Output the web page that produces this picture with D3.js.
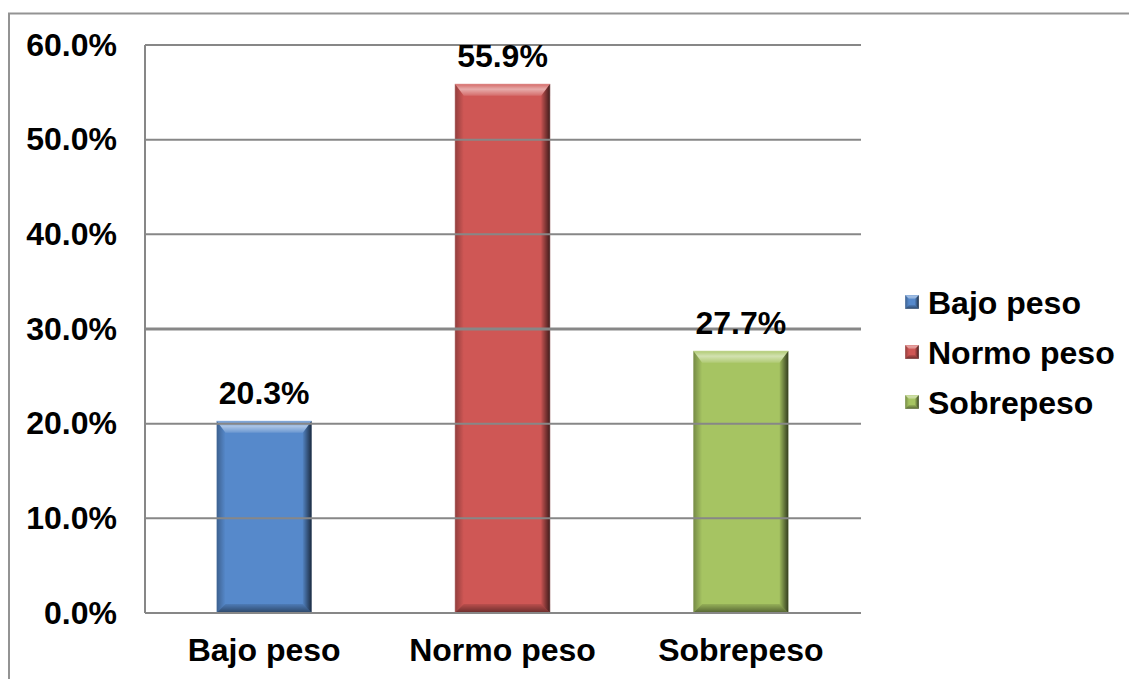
<!DOCTYPE html>
<html>
<head>
<meta charset="utf-8">
<script src="https://cdn.jsdelivr.net/npm/d3@7/dist/d3.min.js"></script>
<style>
  html, body { margin: 0; padding: 0; background: #ffffff; }
  svg { display: block; font-family: "Liberation Sans", Arial, sans-serif; font-weight: bold; }
</style>
</head>
<body>
<svg id="chart" width="1129" height="679"></svg>
<script>
const categories = ["Bajo peso", "Normo peso", "Sobrepeso"];
const values = [0.203, 0.559, 0.277];
const colors = ["#5689CB", "#CF5755", "#A6C462"];
const tickValues = [0, 0.1, 0.2, 0.3, 0.4, 0.5, 0.6];
const legendLabels = ["Bajo peso", "Normo peso", "Sobrepeso"];

const svg = d3.select("#chart");
const W = 1129, H = 679;
const plot = { left: 145, right: 860, top: 45, bottom: 613 };
const FS = 32;

// outer chart border
svg.append("rect")
  .attr("x", 9).attr("y", 13.5)
  .attr("width", W + 20).attr("height", H + 20)
  .attr("fill", "#ffffff")
  .attr("stroke", "#939393").attr("stroke-width", 2);

const x = d3.scaleBand().domain(categories)
  .range([plot.left, plot.right]).paddingInner(0.6).paddingOuter(0.3);
const y = d3.scaleLinear().domain([0, 0.6]).range([plot.bottom, plot.top]);
const fmt = d3.format(".1%");

const defs = svg.append("defs");
const gR = defs.append("linearGradient").attr("id", "gRight").attr("x1", 0).attr("x2", 1).attr("y1", 0).attr("y2", 0);
gR.append("stop").attr("offset", 0).attr("stop-color", "#000").attr("stop-opacity", 0.05);
gR.append("stop").attr("offset", 1).attr("stop-color", "#000").attr("stop-opacity", 0.7);
const gL = defs.append("linearGradient").attr("id", "gLeft").attr("x1", 0).attr("x2", 1).attr("y1", 0).attr("y2", 0);
gL.append("stop").attr("offset", 0).attr("stop-color", "#000").attr("stop-opacity", 0.3);
gL.append("stop").attr("offset", 1).attr("stop-color", "#000").attr("stop-opacity", 0.0);
const gT = defs.append("linearGradient").attr("id", "gTop").attr("x1", 0).attr("x2", 0).attr("y1", 0).attr("y2", 1);
gT.append("stop").attr("offset", 0).attr("stop-color", "#fff").attr("stop-opacity", 0.1);
gT.append("stop").attr("offset", 0.45).attr("stop-color", "#fff").attr("stop-opacity", 0.5);
gT.append("stop").attr("offset", 1).attr("stop-color", "#fff").attr("stop-opacity", 0.12);
const gB = defs.append("linearGradient").attr("id", "gBot").attr("x1", 0).attr("x2", 0).attr("y1", 0).attr("y2", 1);
gB.append("stop").attr("offset", 0).attr("stop-color", "#000").attr("stop-opacity", 0.1);
gB.append("stop").attr("offset", 1).attr("stop-color", "#000").attr("stop-opacity", 0.5);

// bevelled bars
function bevel(g, bx, by, bw, bh, color, bt, bs) {
  g.append("rect").attr("x", bx).attr("y", by).attr("width", bw).attr("height", bh).attr("fill", color);
  const P = pts => pts.map(p => p.join(",")).join(" ");
  g.append("polygon").attr("points", P([[bx, by], [bx + bw, by], [bx + bw - bs, by + bt], [bx + bs, by + bt]])).attr("fill", "url(#gTop)");
  g.append("polygon").attr("points", P([[bx + bw, by], [bx + bw, by + bh], [bx + bw - bs, by + bh - bs], [bx + bw - bs, by + bt]])).attr("fill", "url(#gRight)");
  g.append("polygon").attr("points", P([[bx, by + bh], [bx + bw, by + bh], [bx + bw - bs, by + bh - bs], [bx + bs, by + bh - bs]])).attr("fill", "url(#gBot)");
  g.append("polygon").attr("points", P([[bx, by], [bx + bs, by + bt], [bx + bs, by + bh - bs], [bx, by + bh]])).attr("fill", "url(#gLeft)");
  g.append("rect").attr("x", bx).attr("y", by).attr("width", bw).attr("height", bh)
    .attr("fill", "none").attr("stroke", "#ffffff").attr("stroke-opacity", 0.35).attr("stroke-width", 1);
}

const bars = svg.append("g");
categories.forEach((c, i) => {
  const g = bars.append("g");
  const bx = x(c), bw = x.bandwidth(), by = y(values[i]), bh = y(0) - y(values[i]);
  bevel(g, bx, by, bw, bh, colors[i], 12, 9);
});

// gridlines (drawn over bars, as in the reference)
svg.append("g").selectAll("line").data(tickValues).join("line")
  .attr("x1", plot.left).attr("x2", plot.right + 1)
  .attr("y1", d => y(d)).attr("y2", d => y(d))
  .attr("stroke", "#878787")
  .attr("stroke-width", d => Math.abs(d - 0.3) < 1e-9 ? 3 : 2);

// y axis line
svg.append("line").attr("x1", plot.left).attr("x2", plot.left)
  .attr("y1", plot.top).attr("y2", plot.bottom)
  .attr("stroke", "#878787").attr("stroke-width", 2);

// y tick labels
const yAxis = d3.axisLeft(y).tickValues(tickValues).tickFormat(fmt).tickSize(0).tickPadding(28);
const ya = svg.append("g").attr("transform", `translate(${plot.left},0)`).call(yAxis);
ya.select(".domain").remove();
ya.selectAll("text").attr("font-size", FS).attr("font-weight", "bold")
  .attr("fill", "#000").attr("font-family", "Liberation Sans, Arial, sans-serif");

// x labels
const xAxis = d3.axisBottom(x).tickSize(0).tickPadding(25);
const xa = svg.append("g").attr("transform", `translate(0,${plot.bottom})`).call(xAxis);
xa.select(".domain").remove();
xa.selectAll("text").attr("font-size", FS).attr("font-weight", "bold")
  .attr("fill", "#000").attr("font-family", "Liberation Sans, Arial, sans-serif");

// value labels
svg.append("g").selectAll("text").data(categories).join("text")
  .attr("x", c => x(c) + x.bandwidth() / 2)
  .attr("y", (c, i) => y(values[i]) - 17)
  .attr("text-anchor", "middle")
  .attr("font-size", FS).attr("fill", "#000")
  .text((c, i) => fmt(values[i]));

// legend
const leg = svg.append("g").attr("transform", "translate(905,302)");
legendLabels.forEach((l, i) => {
  const g = leg.append("g").attr("transform", `translate(0,${i * 50})`);
  bevel(g, 0, -7, 14, 14, colors[i], 4, 4);
  g.append("text").attr("x", 23).attr("y", 0).attr("dy", "0.36em")
    .attr("font-size", FS).attr("fill", "#000").text(l);
});
</script>
</body>
</html>
